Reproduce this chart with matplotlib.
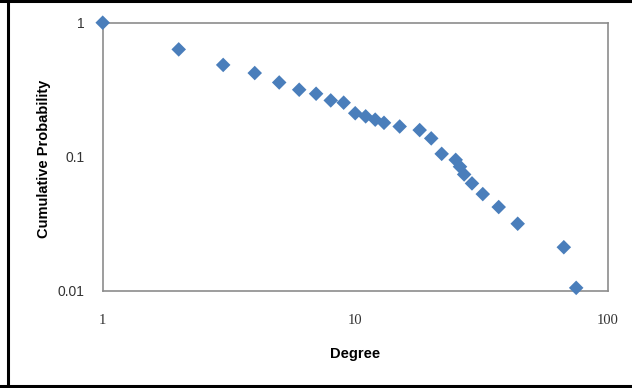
import numpy as np
import matplotlib
matplotlib.use("Agg")
import matplotlib.pyplot as plt
from matplotlib.lines import Line2D

# values
degree = [1, 2, 3, 4, 5, 6, 7, 8, 9, 10, 11, 12, 13, 15, 18, 20,
          22, 25, 26, 27, 29, 32, 37, 44, 67, 75]
cum_prob = [1.0, 0.632, 0.484, 0.421, 0.358, 0.316, 0.295, 0.263, 0.253,
            0.211, 0.2, 0.189, 0.179, 0.168, 0.158, 0.137, 0.105, 0.0947,
            0.0842, 0.0737, 0.0632, 0.0526, 0.0421, 0.0316, 0.0211, 0.0105]

x_ticks = [1, 10, 100]
x_tick_labels = ["1", "10", "100"]
y_ticks = [0.01, 0.1, 1]
y_tick_labels = ["0.01", "0.1", "1"]


def main():
    fig = plt.figure(figsize=(6.32, 3.88), dpi=100)
    ax = fig.add_axes([0.1625, 0.2508, 0.7991, 0.6907])

    ax.scatter(degree, cum_prob, marker="D", s=55, color="#4A7EBB",
               edgecolors="none", zorder=3, clip_on=False)

    ax.set_xscale("log")
    ax.set_yscale("log")
    ax.set_xlim(1, 100)
    ax.set_ylim(0.01, 1)
    ax.minorticks_off()
    ax.set_xticks(x_ticks)
    ax.set_xticklabels(x_tick_labels, family="Liberation Serif", fontsize=10.5,
                       color="#333333")
    ax.set_yticks(y_ticks)
    ax.set_yticklabels(y_tick_labels, family="Liberation Sans", fontsize=10,
                       color="#333333")
    ax.tick_params(length=0)
    ax.tick_params(axis="x", pad=17)
    ax.tick_params(axis="y", pad=13)
    for sp in ax.spines.values():
        sp.set_color("#8C8C8C")
        sp.set_linewidth(1.2)

    ax.set_xlabel("Degree", family="Liberation Sans", fontweight="bold",
                  fontsize=10.5, labelpad=14)
    ax.set_ylabel("Cumulative Probability", family="Liberation Sans",
                  fontweight="bold", fontsize=10.5)
    ax.yaxis.set_label_coords(-0.103, 0.49)

    # outer chart frame (right edge falls outside the picture)
    W, H = 632, 388
    kw = dict(color="black", linewidth=2.2, transform=fig.transFigure)
    fig.add_artist(Line2D([7.5 / W, 7.5 / W], [0, 1], **kw))
    fig.add_artist(Line2D([0, 1], [1 - 1 / H, 1 - 1 / H], **kw))
    fig.add_artist(Line2D([0, 1], [1 - 386 / H, 1 - 386 / H], **kw))

    fig.savefig("out.png", dpi=100)


if __name__ == "__main__":
    main()
